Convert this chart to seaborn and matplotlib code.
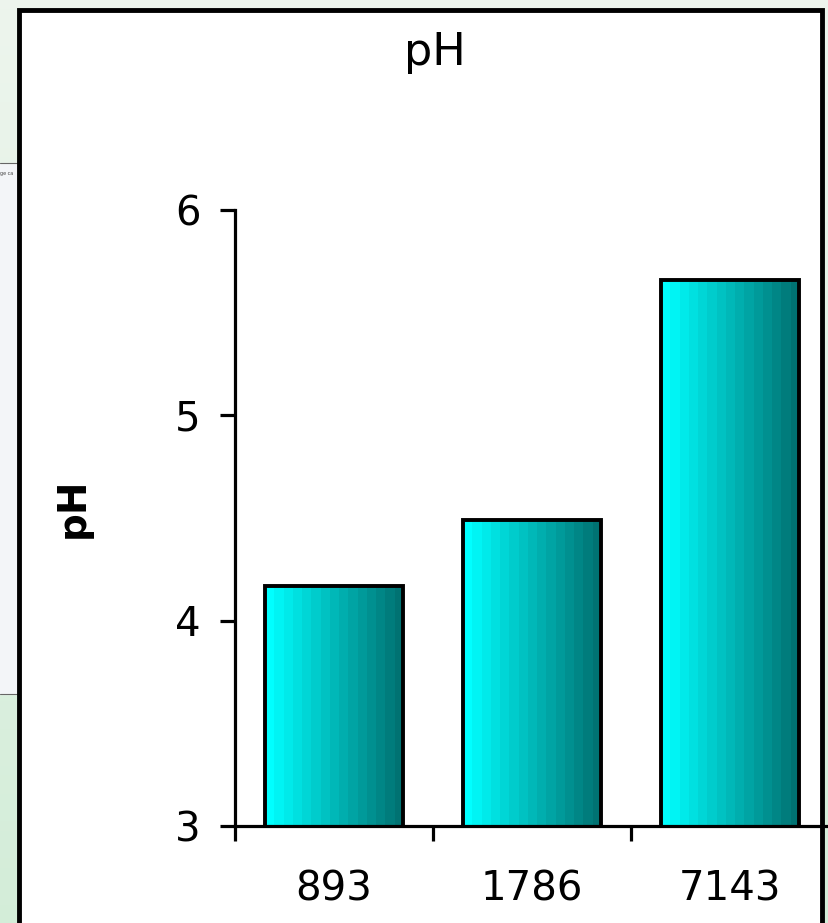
import numpy as np
import matplotlib
matplotlib.use("Agg")
import matplotlib.pyplot as plt
import seaborn as sns
from matplotlib.patches import Rectangle
from matplotlib.lines import Line2D

categories = ["893", "1786", "7143"]
ph_values = [4.17, 4.49, 5.66]
y_ticks = [3, 4, 5, 6]
title_text = "pH"
ylabel_text = "pH"

sns.set_theme(style="white")
plt.rcParams['font.family'] = ['DejaVu Sans']
plt.rcParams['text.color'] = 'black'
plt.rcParams['xtick.color'] = 'black'
plt.rcParams['ytick.color'] = 'black'
plt.rcParams['axes.labelcolor'] = 'black'

W, H = 829, 923
fig = plt.figure(figsize=(W / 100, H / 100), dpi=100)

# background strip (left) with light gradient
bg = fig.add_axes([0, 0, 1, 1], zorder=-10)
bg.set_axis_off()
grad = np.zeros((100, 2, 3))
top_c = np.array([0.93, 0.96, 0.93])
bot_c = np.array([0.83, 0.93, 0.85])
for i in range(100):
    t = i / 99
    grad[i, :, :] = top_c * (1 - t) + bot_c * t
bg.imshow(grad, extent=[0, 1, 0, 1], aspect='auto', origin='upper')
bg.add_patch(Rectangle((0, 1 - 694 / H), 20 / W, (694 - 163) / H, color='#f3f5f8', zorder=1))
bg.add_line(Line2D([0, 20 / W], [1 - 163 / H, 1 - 163 / H], color='#666666', lw=0.8, zorder=2))
bg.add_line(Line2D([0, 20 / W], [1 - 694 / H, 1 - 694 / H], color='#666666', lw=0.8, zorder=2))
bg.text(0, 1 - 173 / H, "ge ca", fontsize=3.5, color='#444444', va='center', ha='left',
        zorder=3, clip_on=True)
bg.set_xlim(0, 1)
bg.set_ylim(0, 1)

# white panel with black border
bg.add_patch(Rectangle((19 / W, -0.05), (822 - 19) / W, 1.05 - 10 / H,
                       facecolor='white', edgecolor='black', lw=3.5, zorder=4))

ax = fig.add_axes([235 / W, 1 - 826 / H, (W - 235) / W, (826 - 210) / H])
ax.patch.set_alpha(0)

sns.barplot(x=categories, y=ph_values, width=0.7, color='cyan',
            edgecolor='black', linewidth=2.8, ax=ax, zorder=3)

ax.set_ylim(3, 6)
ax.set_xlim(-0.5, 2.5)

# gradient fill of bars
n_steps = 15
cmap_cols = np.zeros((1, n_steps, 3))
c0 = np.array([0.0, 1.0, 1.0])
c1 = np.array([0.0, 0.45, 0.45])
for i in range(n_steps):
    t = i / (n_steps - 1)
    cmap_cols[0, i, :] = c0 * (1 - t) + c1 * t
for p in ax.patches:
    x0 = p.get_x()
    w = p.get_width()
    h = p.get_height()
    y0 = p.get_y()
    im = ax.imshow(cmap_cols, extent=[x0, x0 + w, max(y0, 3), y0 + h],
                   aspect='auto', zorder=2, interpolation='nearest')
    im.set_clip_path(p)
    p.set_facecolor('none')
ax.set_xlim(-0.5, 2.5)
ax.set_ylim(3, 6)

for s in ['top', 'right']:
    ax.spines[s].set_visible(False)
for s in ['left', 'bottom']:
    ax.spines[s].set_color('black')
    ax.spines[s].set_linewidth(2.3)
    ax.spines[s].set_zorder(5)

ax.set_yticks(y_ticks)
ax.set_yticklabels([str(v) for v in y_ticks])
ax.tick_params(axis='y', direction='out', length=11, width=2.3, color='black',
               labelcolor='black', labelsize=29, pad=14, left=True)

ax.set_xticks([-0.5, 0.5, 1.5])
ax.set_xticklabels([])
ax.set_xticks([0, 1, 2], minor=True)
ax.set_xticklabels(categories, minor=True)
ax.tick_params(axis='x', which='major', direction='out', length=11, width=2.3,
               color='black', bottom=True)
ax.tick_params(axis='x', which='minor', length=0, labelsize=29, pad=31, bottom=True,
               labelcolor='black')
ax.set_xlabel("")
ax.set_ylabel("")

fig.text(435 / W, 1 - 52 / H, title_text, ha='center', va='center', fontsize=32,
         color='black')
fig.text(73 / W, 1 - 508 / H, ylabel_text, ha='center', va='center', fontsize=28,
         fontweight='bold', rotation=90, color='black')

fig.savefig("out.png", dpi=100)
